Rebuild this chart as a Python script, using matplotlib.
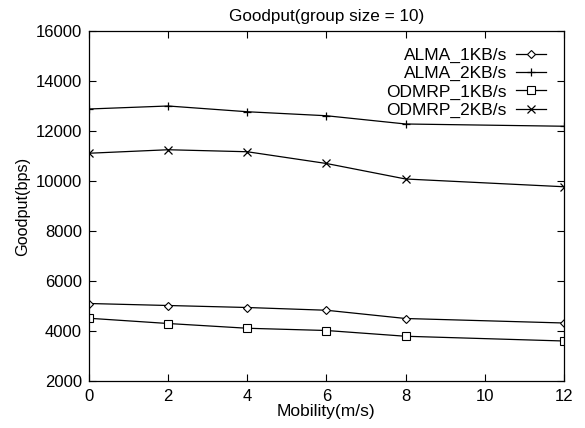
import matplotlib
matplotlib.use("Agg")
import matplotlib.pyplot as plt

plt.rcParams['font.family'] = ['Liberation Sans', 'DejaVu Sans']

mobility = [0, 2, 4, 6, 8, 12]
alma_1kb = [5100, 5020, 4940, 4830, 4500, 4320]
alma_2kb = [12880, 13000, 12770, 12610, 12280, 12190]
odmrp_1kb = [4510, 4300, 4110, 4020, 3790, 3600]
odmrp_2kb = [11110, 11250, 11170, 10700, 10080, 9770]

fig = plt.figure(figsize=(5.85, 4.28), dpi=100)
ax = fig.add_axes([0.152, 0.1098, 0.812, 0.8178])

lw = 0.9
ax.plot(mobility, alma_1kb, color='black', lw=lw, marker='D', ms=4, mfc='white', mec='black', mew=0.8, label='ALMA_1KB/s')
ax.plot(mobility, alma_2kb, color='black', lw=lw, marker='+', ms=6, mew=0.9, label='ALMA_2KB/s')
ax.plot(mobility, odmrp_1kb, color='black', lw=lw, marker='s', ms=5.5, mfc='white', mec='black', mew=0.8, label='ODMRP_1KB/s')
ax.plot(mobility, odmrp_2kb, color='black', lw=lw, marker='x', ms=5.5, mew=0.9, label='ODMRP_2KB/s')

ax.set_xlim(0, 12)
ax.set_ylim(2000, 16000)
ax.set_xticks(range(0, 13, 2))
ax.set_yticks(range(2000, 16001, 2000))
ax.tick_params(direction='in', top=True, right=True, labelsize=12, length=5, width=0.8)
ax.tick_params(axis='x', pad=6)
ax.tick_params(axis='y', pad=5)
for s in ax.spines.values():
    s.set_linewidth(0.9)

ax.set_title('Goodput(group size = 10)', fontsize=12.3, pad=7)
ax.set_xlabel('Mobility(m/s)', fontsize=12.5, labelpad=0)
ax.set_ylabel('Goodput(bps)', fontsize=11.7, labelpad=4)

ax.legend(loc='upper right', bbox_to_anchor=(1.0, 1.003), frameon=False,
          markerfirst=False, fontsize=12.5,
          handlelength=1.75, handletextpad=0.5, labelspacing=0.17,
          borderaxespad=0.63)

fig.savefig('out.png', dpi=100)
